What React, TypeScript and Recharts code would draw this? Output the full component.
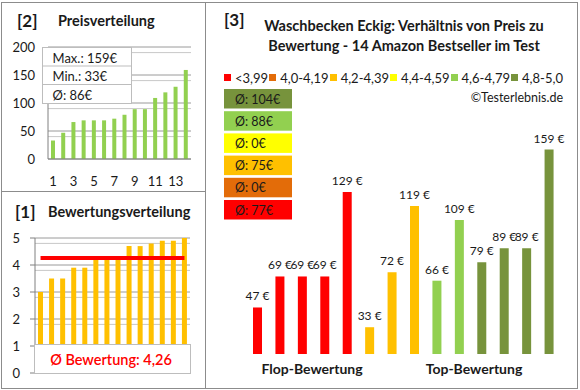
import React from 'react';
import {
  BarChart,
  Bar,
  XAxis,
  YAxis,
  CartesianGrid,
  Cell,
  LabelList,
  ComposedChart,
  Line,
} from 'recharts';

const FONT = 'Lato, "Open Sans", "DejaVu Sans", sans-serif';

// ---- Panel [2] Preisverteilung ----
const priceRanks = ['1', '2', '3', '4', '5', '6', '7', '8', '9', '10', '11', '12', '13', '14'];
const sortedPrices = [33, 47, 66, 69, 69, 69, 72, 79, 89, 89, 109, 119, 129, 159];
const priceTicks = [0, 50, 100, 150, 200];
const priceMinorGrid = [10, 20, 30, 40, 60, 70, 80, 90, 110, 120, 130, 140, 160, 170, 180, 190];
const priceStats = ['Max.: 159€', 'Min.: 33€', 'Ø: 86€'];

// ---- Panel [1] Bewertungsverteilung ----
const sortedRatings = [3.0, 3.5, 3.5, 3.9, 3.9, 4.2, 4.2, 4.2, 4.7, 4.7, 4.8, 4.9, 4.9, 5.0];
const ratingAverage = 4.26;
const ratingAverageLabel = 'Ø Bewertung: 4,26';
const ratingTicks = [0, 1, 2, 3, 4, 5];
const ratingMinorGrid = [1.2, 1.4, 1.6, 1.8, 2.2, 2.4, 2.6, 2.8, 3.2, 3.4, 3.6, 3.8, 4.2, 4.4, 4.6, 4.8];

// ---- Panel [3] Preis zu Bewertung ----
const productNames = ['P1', 'P2', 'P3', 'P4', 'P5', 'P6', 'P7', 'P8', 'P9', 'P10', 'P11', 'P12', 'P13', 'P14'];
const productPrices = [47, 69, 69, 69, 129, 33, 72, 119, 66, 109, 79, 89, 89, 159];
const productGroups = [0, 0, 0, 0, 0, 2, 2, 2, 4, 4, 5, 5, 5, 5];
const groupLabels = ['<3,99', '4,0-4,19', '4,2-4,39', '4,4-4,59', '4,6-4,79', '4,8-5,0'];
const groupColors = ['#FF0000', '#E36C09', '#FFC000', '#FFFF00', '#92D050', '#77933C'];
const groupAverages = ['Ø: 77€', 'Ø: 0€', 'Ø: 75€', 'Ø: 0€', 'Ø: 88€', 'Ø: 104€'];

const priceData = priceRanks.map((r, i) => ({ rank: r, price: sortedPrices[i] }));
const ratingData = priceRanks.map((r, i) => ({ rank: r, rating: sortedRatings[i], avg: ratingAverage }));
const productData = productNames.map((n, i) => ({ name: n, price: productPrices[i], group: productGroups[i] }));

const BORDER = '#8c8c8c';
const GRID_MAJOR = '#9a9a9a';
const GRID_MINOR = '#c8c8c8';
const TXT = '#1a1a1a';

const PriceLabel = (props: any) => {
  const { x, y, width, value } = props;
  return (
    <text x={Number(x) + Number(width) / 2} y={Number(y) - 7} textAnchor="middle" fontSize={12} fill={TXT} fontFamily={FONT}>
      {`${value} €`}
    </text>
  );
};

export default function App() {
  const tickStyle = { fontSize: 13, fill: TXT, fontFamily: FONT };
  return (
    <div style={{ position: 'absolute', left: 0, top: 0, width: 580, height: 390, background: '#fff', fontFamily: FONT }}>
      {/* Panel 2 chart */}
      <div style={{ position: 'absolute', left: 0, top: 0 }}>
        <BarChart width={200} height={190} data={priceData} margin={{ top: 47, right: 9, bottom: 6, left: 0 }} barCategoryGap={0}>
          <CartesianGrid vertical={false} horizontalValues={priceMinorGrid} stroke={GRID_MINOR} />
          <CartesianGrid vertical={false} horizontalValues={priceTicks} stroke={GRID_MAJOR} />
          <XAxis dataKey="rank" height={25} tickSize={0} tickMargin={18} interval={1} tick={tickStyle} axisLine={{ stroke: '#808080' }} tickLine={false} />
          <YAxis width={48} domain={[0, 200]} ticks={priceTicks} tickSize={0} tickMargin={13} tick={tickStyle} axisLine={{ stroke: '#808080' }} tickLine={false} />
          <Bar dataKey="price" fill="#92D050" barSize={4} isAnimationActive={false} />
        </BarChart>
      </div>

      {/* Panel 1 chart */}
      <div style={{ position: 'absolute', left: 0, top: 191 }}>
        <ComposedChart width={205} height={197} data={ratingData} margin={{ top: 47, right: 15, bottom: 15, left: 0 }} barCategoryGap={0}>
          <CartesianGrid vertical={false} horizontalValues={ratingMinorGrid} stroke={GRID_MINOR} />
          <CartesianGrid vertical={false} horizontalValues={ratingTicks} stroke={GRID_MAJOR} />
          <XAxis dataKey="rank" hide />
          <YAxis width={35} domain={[0, 5]} ticks={ratingTicks} tickSize={5} tickMargin={10} tick={tickStyle} axisLine={{ stroke: '#808080' }} tickLine={{ stroke: '#808080' }} />
          <Bar dataKey="rating" fill="#FFC000" barSize={5} isAnimationActive={false} />
          <Line dataKey="avg" stroke="#FF0000" strokeWidth={4} dot={false} activeDot={false} isAnimationActive={false} />
        </ComposedChart>
      </div>

      {/* Panel 3 chart */}
      <div style={{ position: 'absolute', left: 205, top: 0 }}>
        <BarChart width={375} height={390} data={productData} margin={{ top: 120, right: 20, bottom: 36, left: 41 }} barCategoryGap={0}>
          <XAxis dataKey="name" hide />
          <YAxis hide type="number" domain={[14, 180]} allowDataOverflow />
          <Bar dataKey="price" barSize={9} isAnimationActive={false}>
            {productData.map((d, i) => (
              <Cell key={i} fill={groupColors[d.group]} />
            ))}
            <LabelList dataKey="price" content={PriceLabel} />
          </Bar>
        </BarChart>
      </div>

      {/* Overlay */}
      <svg width={580} height={390} style={{ position: 'absolute', left: 0, top: 0, pointerEvents: 'none' }} fontFamily={FONT}>
        <rect x={1.5} y={2.5} width={576} height={386} fill="none" stroke={BORDER} />
        <line x1={205.5} y1={2} x2={205.5} y2={389} stroke={BORDER} />
        <line x1={1} y1={191.5} x2={205} y2={191.5} stroke={BORDER} />

        {/* Panel 2 titles */}
        <text x={17} y={20} dominantBaseline="central" fontSize={17} fontWeight="bold" fill={TXT}>[2]</text>
        <text x={58} y={20} dominantBaseline="central" fontSize={14.5} fontWeight="bold" fill={TXT}>Preisverteilung</text>
        {/* stats box */}
        <rect x={42.5} y={47.5} width={89} height={56} fill="#fff" stroke="#bdbdbd" />
        <line x1={42.5} y1={66} x2={131.5} y2={66} stroke="#bdbdbd" />
        <line x1={42.5} y1={84.5} x2={131.5} y2={84.5} stroke="#bdbdbd" />
        {priceStats.map((s, i) => (
          <text key={s} x={52.5} y={57.5 + i * 18.5} dominantBaseline="central" fontSize={13} fill={TXT}>{s}</text>
        ))}

        {/* Panel 1 titles */}
        <text x={15} y={211} dominantBaseline="central" fontSize={17} fontWeight="bold" fill={TXT}>[1]</text>
        <text x={48} y={211} dominantBaseline="central" fontSize={14.5} fontWeight="bold" fill={TXT}>Bewertungsverteilung</text>
        <rect x={34.5} y={344.5} width={156} height={29} fill="#fff" stroke="#bdbdbd" />
        <text x={111} y={359} dominantBaseline="central" textAnchor="middle" fontSize={14.5} fontWeight={600} fill="#FF0000">{ratingAverageLabel}</text>

        {/* Panel 3 titles */}
        <text x={224} y={19} dominantBaseline="central" fontSize={17} fontWeight="bold" fill={TXT}>[3]</text>
        <text x={404} y={25} dominantBaseline="central" textAnchor="middle" fontSize={14.5} fontWeight="bold" fill={TXT}>Waschbecken Eckig: Verhältnis von Preis zu</text>
        <text x={404} y={45} dominantBaseline="central" textAnchor="middle" fontSize={14.5} fontWeight="bold" fill={TXT}>Bewertung - 14 Amazon Bestseller im Test</text>
        <text x={563} y={97} dominantBaseline="central" textAnchor="end" fontSize={12.5} fill={TXT}>©Testerlebnis.de</text>

        {/* group average boxes (top: best group) */}
        {groupAverages.slice().reverse().map((s, i) => {
          const colorIdx = groupColors.length - 1 - i;
          const y = 89 + i * 22.2;
          return (
            <g key={i}>
              <rect x={224} y={y} width={68} height={19.5} fill={groupColors[colorIdx]} />
              <text x={235} y={y + 10} dominantBaseline="central" fontSize={12.5} fill={TXT}>{s}</text>
            </g>
          );
        })}

        <text x={312} y={368} dominantBaseline="central" textAnchor="middle" fontSize={14} fontWeight="bold" fill={TXT}>Flop-Bewertung</text>
        <text x={474} y={368} dominantBaseline="central" textAnchor="middle" fontSize={14} fontWeight="bold" fill={TXT}>Top-Bewertung</text>
      </svg>

      {/* legend */}
      <div
        style={{
          position: 'absolute',
          left: 224,
          top: 70,
          width: 339,
          height: 15,
          display: 'flex',
          justifyContent: 'space-between',
          alignItems: 'center',
          fontSize: 13,
          color: TXT,
          fontFamily: FONT,
          whiteSpace: 'nowrap',
        }}
      >
        {groupLabels.map((l, i) => (
          <span key={l} style={{ display: 'flex', alignItems: 'center' }}>
            <span style={{ display: 'inline-block', width: 7, height: 7, background: groupColors[i], marginRight: 4 }} />
            {l}
          </span>
        ))}
      </div>
    </div>
  );
}
